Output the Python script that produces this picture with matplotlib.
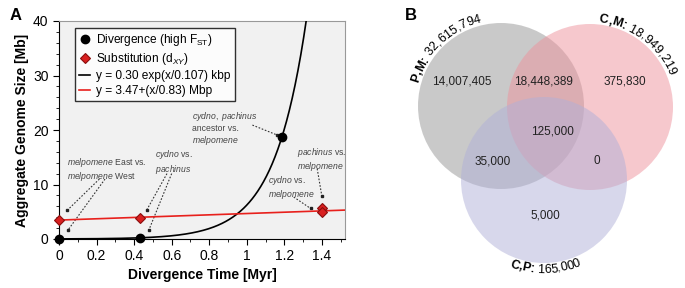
import math
import numpy as np
import matplotlib
matplotlib.use('Agg')
import matplotlib.pyplot as plt
from matplotlib.patches import Circle
from matplotlib.font_manager import FontProperties, findfont, get_font

plt.rcParams['font.family'] = ['Liberation Sans', 'DejaVu Sans']
plt.rcParams['mathtext.fontset'] = 'custom'
plt.rcParams['mathtext.rm'] = 'Liberation Sans'
plt.rcParams['mathtext.it'] = 'Liberation Sans:italic'
plt.rcParams['mathtext.bf'] = 'Liberation Sans:bold'

# ---- panel A data ----
div_time = [0.0, 0.43, 1.187]          # Myr, high-FST divergence points
div_size = [0.0, 0.2, 18.7]            # Mb
sub_time = [0.0, 0.43, 1.4, 1.4]       # Myr, dXY substitution points
sub_size = [3.45, 3.86, 5.6, 4.97]     # Mb
exp_a, exp_b = 0.01736, 0.17           # fitted curve as drawn (Mb, Myr)
lin_a, lin_b = 3.47, 0.83              # y = 3.47 + x/0.83
x_ticks = [0, 0.2, 0.4, 0.6, 0.8, 1.0, 1.2, 1.4]
x_tick_labels = ['0', '0.2', '0.4', '0.6', '0.8', '1', '1.2', '1.4']
y_ticks = [0, 10, 20, 30, 40]

# text, anchor (x, y) and list of arrows (start, end)
notes = [
    (r'$\mathit{melpomene}$ East vs.' + '\n' + r'$\mathit{melpomene}$ West', (0.04, 12.7),
     [((0.215, 11.0), (0.045, 5.3)), ((0.245, 11.0), (0.047, 1.6))]),
    (r'$\mathit{cydno}$ vs.' + '\n' + r'$\mathit{pachinus}$', (0.51, 14.1),
     [((0.575, 12.0), (0.467, 5.3)), ((0.60, 12.0), (0.478, 1.6))]),
    (r'$\mathit{cydno,}$ $\mathit{pachinus}$' + '\n' + 'ancestor vs.' + '\n' + r'$\mathit{melpomene}$', (0.71, 20.3),
     [((1.03, 20.9), (1.16, 19.1))]),
    (r'$\mathit{pachinus}$ vs.' + '\n' + r'$\mathit{melpomene}$', (1.267, 14.55),
     [((1.375, 12.9), (1.40, 7.8))]),
    (r'$\mathit{cydno}$ vs.' + '\n' + r'$\mathit{melpomene}$', (1.115, 9.4),
     [((1.25, 7.7), (1.34, 5.6))]),
]

# ---- panel B data ----
set_names = ['P,M', 'C,M', 'C,P']
set_totals = [32615794, 18949219, 165000]
region_counts = {'PM': 14007405, 'PM_CM': 18448389, 'CM': 375830, 'all': 125000,
                 'PM_CP': 35000, 'CM_CP': 0, 'CP': 5000}

fig = plt.figure(figsize=(6.85, 2.88), dpi=100)

# ---------------- panel A ----------------
ax = fig.add_axes([59 / 685, 1 - 239 / 288, (345 - 59) / 685, (239 - 21) / 288])
ax.set_facecolor('#f1f1f1')

xs = np.linspace(0, 1.52, 400)
ax.plot(xs, exp_a * np.exp(xs / exp_b), color='black', lw=1.2,
        label='y = 0.30 exp(x/0.107) kbp', zorder=3)
ax.plot(xs, lin_a + xs / lin_b, color='#e8201c', lw=1.2,
        label='y = 3.47+(x/0.83) Mbp', zorder=3)
ax.plot(div_time, div_size, 'o', color='black', ms=6, clip_on=False,
        label='Divergence (high F$_\\mathrm{ST}$)', zorder=5)
ax.plot(sub_time, sub_size, 'D', color='#d92020', mec='#8a0e0e', mew=0.8, ms=5.5,
        clip_on=False, label='Substitution (d$_{XY}$)', zorder=6)

for txt, (tx, ty), arrows in notes:
    ax.text(tx, ty, txt, fontsize=6.2, color='#444444', ha='left', va='center',
            linespacing=1.15)
    for (sx, sy), (ex, ey) in arrows:
        ax.plot([sx, ex], [sy, ey], color='#333333', lw=0.8, ls=(0, (1.5, 1.5)))
        ax.plot([ex], [ey], 's', color='#222222', ms=2)

ax.set_xlim(0, 1.523)
ax.set_ylim(0, 40)
ax.set_xticks(x_ticks)
ax.set_xticklabels(x_tick_labels)
ax.set_yticks(y_ticks)
ax.set_xticks(np.arange(0, 1.55, 0.1), minor=True)
ax.set_yticks(np.arange(0, 41, 2), minor=True)
ax.tick_params(labelsize=10, direction='out', length=4, width=0.8)
ax.tick_params(which='minor', length=2.5, width=0.6)
ax.set_xlabel('Divergence Time [Myr]', fontsize=10, fontweight='bold', labelpad=3)
ax.set_ylabel('Aggregate Genome Size [Mb]', fontsize=10, fontweight='bold', labelpad=3)
for s in ['top', 'right']:
    ax.spines[s].set_color('#999999')
for s in ['left', 'bottom']:
    ax.spines[s].set_color('black')

h, l = ax.get_legend_handles_labels()
order = [2, 3, 0, 1]
leg = ax.legend([h[i] for i in order], [l[i] for i in order], loc='upper left',
                bbox_to_anchor=(0.035, 0.995), fontsize=8.6, frameon=True, fancybox=False,
                edgecolor='black', handlelength=0.9, handletextpad=0.5,
                labelspacing=0.25, borderpad=0.35)
leg.get_frame().set_linewidth(1.0)
leg.get_frame().set_facecolor('white')

fig.text(10 / 685, 1 - 15 / 288, 'A', fontsize=12, fontweight='bold', ha='left', va='center')

# ---------------- panel B ----------------
axb = fig.add_axes([380 / 685, 0, 305 / 685, 1])
axb.set_xlim(380, 685)
axb.set_ylim(288, 0)
axb.axis('off')

R = 83
centers = [(501, 106), (590, 107), (544, 180)]
colors = ['#959595', '#ee929c', '#b0b0d8']
for (cx, cy), c in zip(centers, colors):
    axb.add_patch(Circle((cx, cy), R, facecolor=c, edgecolor='none', alpha=0.5))

region_pos = {'PM': (462, 82), 'PM_CM': (543, 81), 'CM': (625, 82), 'all': (552, 132),
              'PM_CP': (493, 161), 'CM_CP': (597, 161), 'CP': (545, 215)}
for key, val in region_counts.items():
    x, y = region_pos[key]
    axb.text(x, y, f'{val:,}', fontsize=8.5, ha='center', va='center', color='#222222')


def char_adv(ch, fp):
    f = get_font(findfont(fp))
    f.set_size(fp.get_size_in_points(), 72)
    g = f.load_char(ord(ch))
    return g.linearHoriAdvance / 65536.0 * 100 / 72


def curved_text(parts, cx, cy, r, mid_deg, clockwise, size=9):
    chars = []
    for s, w in parts:
        fp = FontProperties(family='Liberation Sans', weight=w, size=size)
        for ch in s:
            chars.append((ch, w, char_adv(ch, fp)))
    total = sum(c[2] for c in chars)
    pos = -total / 2
    for ch, w, adv in chars:
        mid = pos + adv / 2
        if clockwise:
            th = mid_deg - math.degrees(mid / r)
            rot = th - 90
        else:
            th = mid_deg + math.degrees(mid / r)
            rot = th + 90
        x = cx + r * math.cos(math.radians(th))
        y = cy - r * math.sin(math.radians(th))
        axb.text(x, y, ch, fontsize=size, fontweight=w, rotation=rot,
                 rotation_mode='anchor', ha='center', va='baseline', color='black')
        pos += adv


label_geom = [(centers[0], 86, 134, True), (centers[1], 85, 53, True), (centers[2], 93, -89, False)]
for name, total, ((cx, cy), r, mid, cw) in zip(set_names, set_totals, label_geom):
    curved_text([(name + ': ', 'bold'), (f'{total:,}', 'normal')], cx, cy, r, mid, cw)

fig.text(405 / 685, 1 - 15 / 288, 'B', fontsize=12, fontweight='bold', ha='left', va='center')

fig.savefig('out.png', dpi=100)
